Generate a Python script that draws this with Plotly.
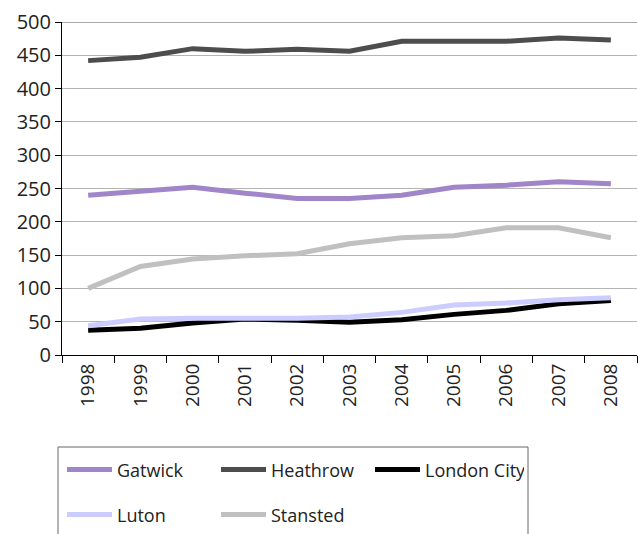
import plotly.graph_objects as go

years = ["1998", "1999", "2000", "2001", "2002", "2003", "2004", "2005", "2006", "2007", "2008"]
gatwick = [240, 246, 252, 243, 235, 235, 240, 252, 255, 260, 257]
heathrow = [442, 447, 460, 456, 459, 456, 471, 471, 471, 476, 473]
london_city = [37, 40, 48, 54, 52, 49, 53, 61, 67, 77, 82]
luton = [44, 54, 55, 55, 55, 57, 64, 75, 78, 83, 86]
stansted = [100, 133, 144, 149, 152, 167, 176, 179, 191, 191, 176]

series = [
    ("Gatwick", gatwick, "#a085c8", "legend"),
    ("Heathrow", heathrow, "#4d4d4d", "legend"),
    ("London City", london_city, "#000000", "legend"),
    ("Luton", luton, "#ccccff", "legend2"),
    ("Stansted", stansted, "#c0c0c0", "legend2"),
]

fig = go.Figure()
for name, vals, col, lg in series:
    fig.add_trace(go.Scatter(x=years, y=vals, name=name, mode="lines",
                             line=dict(color=col, width=5), legend=lg))

font = dict(family="Open Sans, Noto Sans, sans-serif", size=20, color="#222222")
leg_common = dict(orientation="h", xanchor="left", yanchor="middle",
                  borderwidth=0, entrywidth=94, itemwidth=45, bgcolor="rgba(0,0,0,0)",
                  font=dict(size=18, color="#222222"), traceorder="normal")
fig.update_layout(
    width=638, height=534,
    margin=dict(l=62, r=1, t=22, b=179),
    plot_bgcolor="white", paper_bgcolor="white",
    font=font,
    showlegend=True,
    legend=dict(x=0.0, y=-0.345, **leg_common),
    legend2=dict(x=0.0, y=-0.48, **leg_common),
    xaxis=dict(type="category", range=[-0.5, 10.5], tickangle=-90, tickson="boundaries",
               ticks="outside", ticklen=7, tickcolor="black", showline=True,
               linecolor="black", linewidth=1, showgrid=False, automargin=False,
               tickfont=dict(size=19)),
    yaxis=dict(range=[0, 500], dtick=50, ticks="outside", ticklen=6, tickcolor="black",
               showline=True, linecolor="black", linewidth=1, gridcolor="#b4b4b4",
               gridwidth=1, zeroline=False, automargin=False),
)
fig.add_shape(type="line", xref="paper", yref="y", x0=0, x1=1, y0=500, y1=500,
              line=dict(color="#555555", width=1))
# legend frame
fig.add_shape(type="rect", xref="paper", yref="paper",
              x0=(58 - 62) / 575, x1=(528 - 62) / 575,
              y0=(355 - 545) / 333, y1=(355 - 447) / 333,
              line=dict(color="#666666", width=1), fillcolor="rgba(0,0,0,0)")
fig.write_html("out.html")
